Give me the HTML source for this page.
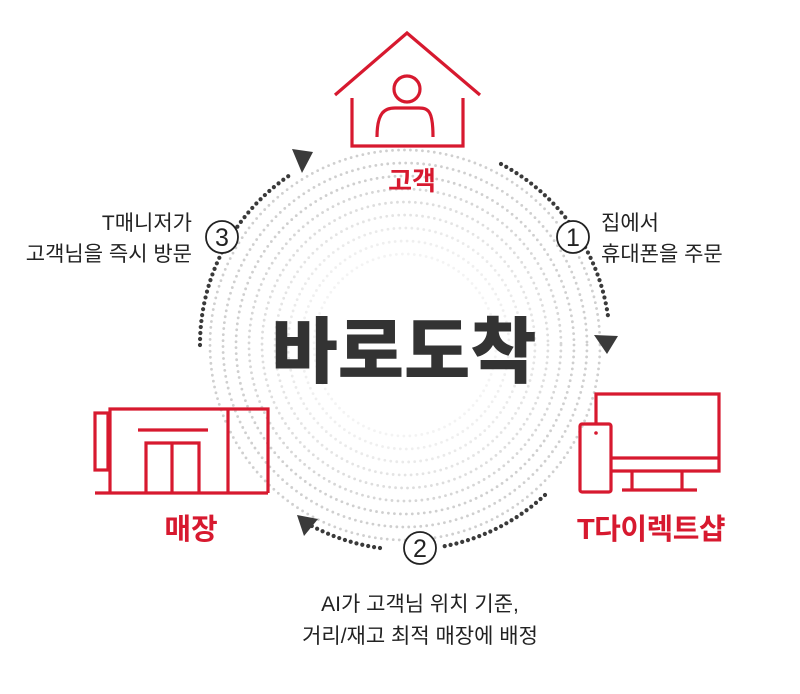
<!DOCTYPE html>
<html><head><meta charset="utf-8"><style>
html,body{margin:0;padding:0;background:#fff;}
svg{display:block;}
text{font-family:"Liberation Sans","Noto Sans CJK KR",sans-serif;}
</style></head><body>
<svg width="800" height="694" viewBox="0 0 800 694" xmlns="http://www.w3.org/2000/svg">
<g fill="none" stroke="#cfcfcf" stroke-width="2.8" stroke-linecap="round" stroke-dasharray="0 6">
<circle cx="405" cy="345" r="195"/>
<circle cx="405" cy="345" r="182"/>
<circle cx="405" cy="345" r="169"/>
<circle cx="405" cy="345" r="156" stroke="#d6d6d6"/>
<circle cx="405" cy="345" r="143" stroke="#dddddd"/>
<circle cx="405" cy="345" r="130" stroke="#e4e4e4"/>
<circle cx="405" cy="345" r="117" stroke="#eaeaea"/>
<circle cx="405" cy="345" r="104" stroke="#efefef"/>
<circle cx="405" cy="345" r="91" stroke="#f3f3f3"/>
</g>
<g fill="none" stroke="#3a3a3a" stroke-width="4.2" stroke-linecap="round" stroke-dasharray="0 6">
<path d="M200 345 A205 205 0 0 1 293 173"/>
<path d="M501 164 A205 205 0 0 1 608 316"/>
<path d="M545 495 A205 205 0 0 1 440 547"/>
<path d="M380 548 A205 205 0 0 1 310 525"/>
</g>
<g fill="#3a3a3a">
<polygon points="292,149 313,152 302,173"/>
<polygon points="594,335 618,336 607,354"/>
<polygon points="297,515 318,519 304,536"/>
</g>
<g fill="#fff" stroke="#222" stroke-width="1.8">
<circle cx="222" cy="237" r="16"/>
<circle cx="573" cy="237" r="16"/>
<circle cx="420" cy="548" r="16"/>
</g>
<g font-size="25" fill="#222" text-anchor="middle">
<text x="222" y="246">3</text>
<text x="573" y="246">1</text>
<text x="420" y="557">2</text>
</g>
<!-- house -->
<g fill="none" stroke="#d7192f" stroke-width="3.2">
<polyline points="335,95 407,33 480,95"/>
<polyline points="352,98 352,146 463,146 463,98"/>
<circle cx="407" cy="89" r="13"/>
<path d="M377 137 C377 112 385 108 395 108 L419 108 C429 108 433 112 433 137"/>
</g>
<!-- store -->
<g fill="none" stroke="#d7192f" stroke-width="3.2">
<rect x="95" y="413" width="13" height="57"/>
<polyline points="110,493 110,409 268,409 268,493"/>
<line x1="95" y1="493" x2="268" y2="493"/>
<line x1="228" y1="409" x2="228" y2="493"/>
<line x1="138" y1="430" x2="208" y2="430"/>
<polyline points="146,493 146,443 199,443 199,493"/>
<line x1="172" y1="443" x2="172" y2="493"/>
</g>
<!-- devices -->
<g fill="none" stroke="#d7192f" stroke-width="3.2">
<polyline points="596,424 596,394 719,394 719,471 611,471"/>
<line x1="611" y1="458" x2="719" y2="458"/>
<line x1="632" y1="472" x2="632" y2="490"/>
<line x1="682" y1="472" x2="682" y2="490"/>
<line x1="622" y1="490" x2="697" y2="490"/>
<rect x="580" y="424" width="31" height="68" rx="2"/>
</g>
<circle cx="596" cy="433" r="1.8" fill="#d7192f"/>
<g font-weight="bold" fill="#d7192f" text-anchor="middle">
<text x="412" y="190" font-size="26">고객</text>
<text x="191" y="539" font-size="29">매장</text>
<text x="651" y="539" font-size="29" letter-spacing="-0.5">T다이렉트샵</text>
</g>
<text x="404" y="377" text-anchor="middle" font-size="72" font-weight="900" fill="#333">바로도착</text>
<g font-size="21" fill="#222">
<text x="192" y="230" text-anchor="end">T매니저가</text>
<text x="192" y="261" text-anchor="end">고객님을 즉시 방문</text>
<text x="601" y="230">집에서</text>
<text x="601" y="261">휴대폰을 주문</text>
<text x="420" y="611" text-anchor="middle">AI가 고객님 위치 기준,</text>
<text x="420" y="643" text-anchor="middle">거리/재고 최적 매장에 배정</text>
</g>
</svg>
</body></html>
